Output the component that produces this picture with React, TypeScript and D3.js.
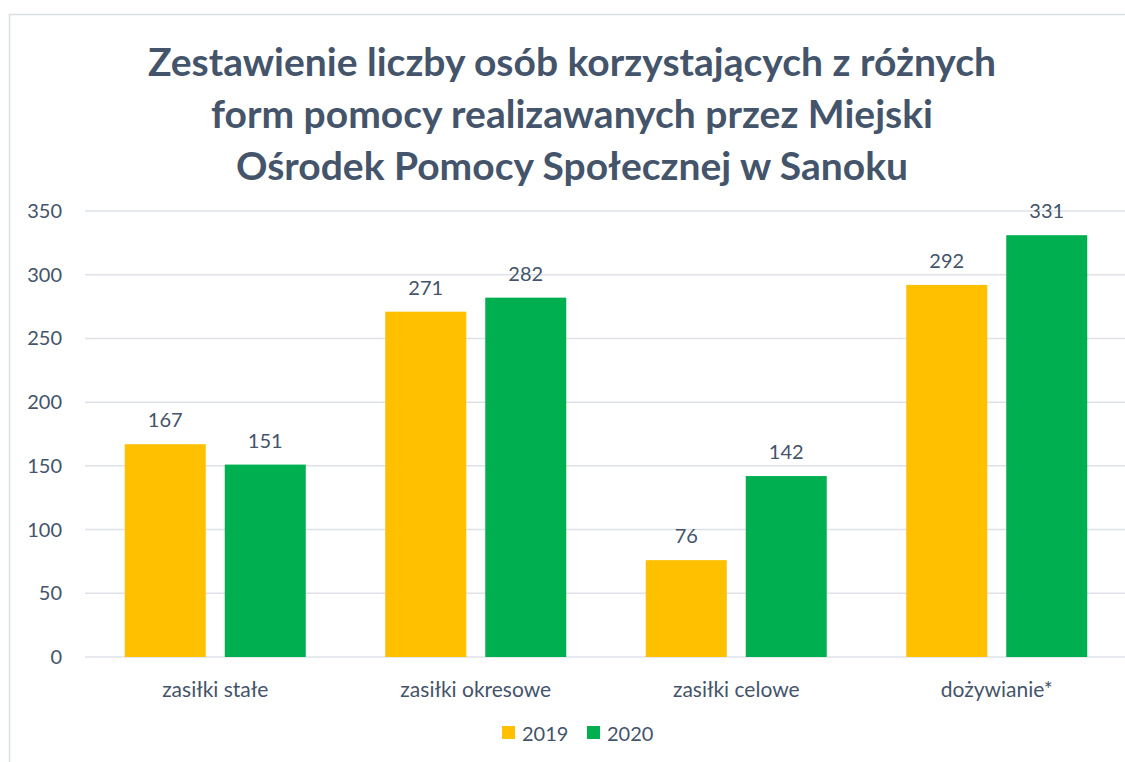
import React from "react";
import * as d3 from "d3";

const categories = ["zasiłki stałe", "zasiłki okresowe", "zasiłki celowe", "dożywianie*"];
const series2019 = [167, 271, 76, 292];
const series2020 = [151, 282, 142, 331];
const seriesNames = ["2019", "2020"];
const yTicks = [0, 50, 100, 150, 200, 250, 300, 350];
const titleLines = [
  "Zestawienie liczby osób korzystających z różnych",
  "form pomocy realizawanych przez Miejski",
  "Ośrodek Pomocy Społecznej w Sanoku",
];

const colors = ["#FFC000", "#00B050"];
const textColor = "#44546A";
const font = "Lato, 'Open Sans', sans-serif";

export default function App() {
  const W = 1125, H = 762;
  const left = 85, right = 1127, top = 211, bottom = 657;
  const x = d3.scaleBand<string>().domain(categories).range([left, right]);
  const y = d3.scaleLinear().domain([0, 350]).range([bottom, top]);
  const barW = 81, gap = 19;
  const all = [series2019, series2020];

  return (
    <svg width={W} height={H} style={{ position: "absolute", left: 0, top: 0, background: "#fff" }}>
      <rect x={9.5} y={14.5} width={1200} height={800} fill="#fff" stroke="#D9DEE5" strokeWidth={1.5} />
      {titleLines.map((t, i) => (
        <text key={i} x={572} y={76 + i * 52} textAnchor="middle" fontFamily={font} fontWeight={700}
          fontSize={39} fill={textColor}>{t}</text>
      ))}
      {yTicks.map((v) => (
        <g key={v}>
          <line x1={left} x2={right} y1={y(v)} y2={y(v)} stroke="#DEE2E8" strokeWidth={1.5} />
          <text x={62} y={y(v) + 7} textAnchor="end" fontFamily={font} fontSize={20} fill={textColor}>{v}</text>
        </g>
      ))}
      {categories.map((c, ci) => {
        const cx = (x(c) as number) + x.bandwidth() / 2;
        return (
          <g key={c}>
            {all.map((s, si) => {
              const bx = si === 0 ? cx - gap / 2 - barW : cx + gap / 2;
              return (
                <g key={si}>
                  <rect x={bx} y={y(s[ci])} width={barW} height={bottom - y(s[ci])} fill={colors[si]} />
                  <text x={bx + barW / 2} y={y(s[ci]) - 17} textAnchor="middle" fontFamily={font}
                    fontSize={20} fill={textColor}>{s[ci]}</text>
                </g>
              );
            })}
            <text x={cx} y={697} textAnchor="middle" fontFamily={font} fontSize={21} fill={textColor}>{c}</text>
          </g>
        );
      })}
      {seriesNames.map((n, i) => {
        const lx = 502 + i * 85;
        return (
          <g key={n}>
            <rect x={lx} y={726} width={13} height={13} fill={colors[i]} />
            <text x={lx + 20} y={741} fontFamily={font} fontSize={20} fill={textColor}>{n}</text>
          </g>
        );
      })}
    </svg>
  );
}
